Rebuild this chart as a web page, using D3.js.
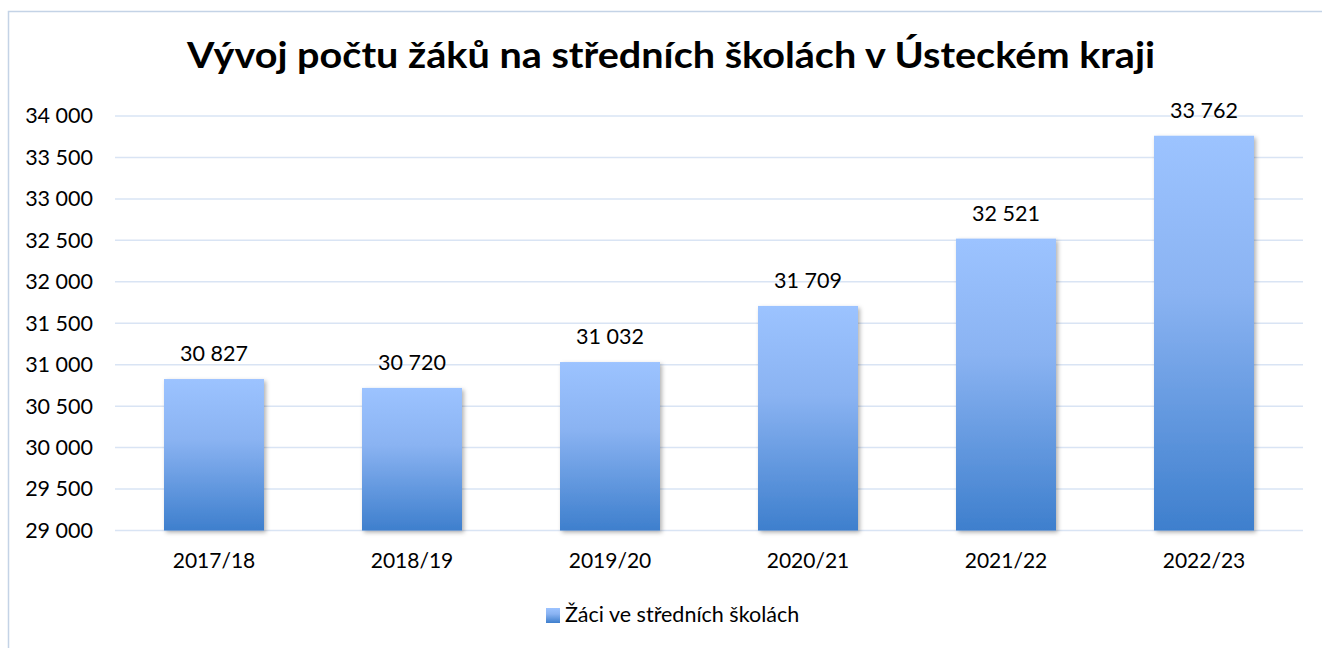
<!DOCTYPE html>
<html>
<head>
<meta charset="utf-8">
<script src="https://cdn.jsdelivr.net/npm/d3@7"></script>
<style>
  body { margin: 0; background: #fff; }
  svg { display: block; font-family: Lato, 'Open Sans', sans-serif; }
</style>
</head>
<body>
<div id="chart"></div>
<script>
const years = ['2017/18', '2018/19', '2019/20', '2020/21', '2021/22', '2022/23'];
const students = [30827, 30720, 31032, 31709, 32521, 33762];
const yTicks = [29000, 29500, 30000, 30500, 31000, 31500, 32000, 32500, 33000, 33500, 34000];
const title = 'Vývoj počtu žáků na středních školách v Ústeckém kraji';
const seriesName = 'Žáci ve středních školách';

const w = 1322;
const h = 648;
const plot = { left: 115, right: 1303, top: 116, bottom: 530.5 };

const fmt = v => d3.format(',')(v).replace(/,/g, ' ');

const svg = d3.select('#chart').append('svg').attr('width', w).attr('height', h);

const defs = svg.append('defs');
const grad = defs.append('linearGradient')
  .attr('id', 'barGrad')
  .attr('x1', 0).attr('y1', 0).attr('x2', 0).attr('y2', 1);
grad.append('stop').attr('offset', '0%').attr('stop-color', '#9cc3ff');
grad.append('stop').attr('offset', '40%').attr('stop-color', '#8ab3f2');
grad.append('stop').attr('offset', '100%').attr('stop-color', '#3e7fcd');

const shadow = defs.append('filter').attr('id', 'shadow')
  .attr('x', '-10%').attr('y', '-10%').attr('width', '130%').attr('height', '130%');
shadow.append('feDropShadow')
  .attr('dx', 2).attr('dy', 2).attr('stdDeviation', 2)
  .attr('flood-color', '#000').attr('flood-opacity', 0.3);

// chart frame (only top and left edge visible)
svg.append('rect')
  .attr('x', 8.5).attr('y', 11.5)
  .attr('width', w + 20).attr('height', h + 20)
  .attr('fill', 'none')
  .attr('stroke', '#c4d3e6')
  .attr('stroke-width', 1.5);

// title
svg.append('text')
  .attr('x', 671)
  .attr('y', 68)
  .attr('text-anchor', 'middle')
  .attr('font-size', 37)
  .attr('font-weight', 'bold')
  .attr('fill', '#000')
  .attr('textLength', 968)
  .attr('lengthAdjust', 'spacingAndGlyphs')
  .text(title);

const x = d3.scaleBand().domain(years).range([plot.left, plot.right]).paddingInner(0.495).paddingOuter(0.2475);
const y = d3.scaleLinear().domain([29000, 34000]).range([plot.bottom, plot.top]);

// gridlines
svg.append('g')
  .selectAll('line')
  .data(yTicks)
  .enter()
  .append('line')
  .attr('x1', plot.left)
  .attr('x2', plot.right)
  .attr('y1', d => y(d))
  .attr('y2', d => y(d))
  .attr('stroke', '#d9e4f4')
  .attr('stroke-width', 1.5);

// y axis labels
const yAxis = svg.append('g')
  .attr('transform', `translate(${plot.left - 22},0)`)
  .call(d3.axisLeft(y).tickValues(yTicks).tickSize(0).tickPadding(0).tickFormat(fmt));
yAxis.select('.domain').remove();
yAxis.selectAll('text')
  .attr('font-family', 'Lato, sans-serif')
  .attr('font-size', 21.5)
  .attr('fill', '#000');

// x axis labels
const xAxis = svg.append('g')
  .attr('transform', `translate(0,${plot.bottom})`)
  .call(d3.axisBottom(x).tickSize(0).tickPadding(23));
xAxis.select('.domain').remove();
xAxis.selectAll('text')
  .attr('font-family', 'Lato, sans-serif')
  .attr('font-size', 21)
  .attr('fill', '#000');

// bars
svg.append('g')
  .selectAll('rect')
  .data(students)
  .enter()
  .append('rect')
  .attr('x', (d, i) => x(years[i]))
  .attr('y', d => y(d))
  .attr('width', x.bandwidth())
  .attr('height', d => y(29000) - y(d))
  .attr('fill', 'url(#barGrad)')
  .attr('filter', 'url(#shadow)');

// value labels
svg.append('g')
  .selectAll('text')
  .data(students)
  .enter()
  .append('text')
  .attr('x', (d, i) => x(years[i]) + x.bandwidth() / 2)
  .attr('y', d => y(d) - 18)
  .attr('text-anchor', 'middle')
  .attr('font-size', 21.5)
  .attr('fill', '#000')
  .text(fmt);

// legend
const legend = svg.append('g').attr('transform', 'translate(546,608)');
legend.append('rect')
  .attr('width', 14)
  .attr('height', 15)
  .attr('fill', 'url(#barGrad)');
legend.append('text')
  .attr('x', 19)
  .attr('y', 13.5)
  .attr('font-size', 21.5)
  .attr('fill', '#000')
  .text(seriesName);
</script>
</body>
</html>
